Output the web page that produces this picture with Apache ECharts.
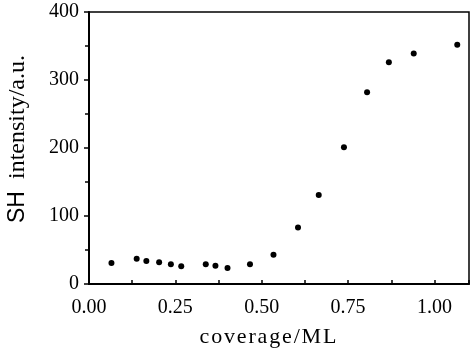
<!DOCTYPE html>
<html><head><meta charset="utf-8">
<script src="https://cdn.jsdelivr.net/npm/echarts@6/dist/echarts.min.js"></script>
<style>html,body{margin:0;padding:0;background:#fff}#c{width:470px;height:351px}</style>
</head><body><div id="c"></div>
<script>
const coverage = [0.065, 0.138, 0.166, 0.203, 0.237, 0.267, 0.338, 0.366, 0.401, 0.466, 0.534, 0.605, 0.665, 0.738, 0.805, 0.868, 0.940, 1.066];
const intensity = [31, 37, 34, 32, 29, 26, 29, 27, 23.5, 29, 43, 83, 131, 201, 282, 326, 339, 352];
const xTicks = [0, 0.25, 0.5, 0.75, 1.0];
const yTicks = [0, 100, 200, 300, 400];

const data = coverage.map((c, i) => [c, intensity[i]]);
const chart = echarts.init(document.getElementById('c'));
const serif = 'Liberation Serif';
const hs = '\u200A';
chart.setOption({
  animation: false,
  grid: {left: 89, right: 1, top: 12, bottom: 67, show: true, borderColor: '#000', borderWidth: 1.5,
    backgroundColor: 'transparent', containLabel: false, outerBoundsMode: 'none'},
  xAxis: {
    type: 'value', min: 0, max: 1.1, interval: 0.25,
    name: 'coverage/ML'.split('').join(hs), nameLocation: 'middle', nameGap: 42,
    nameTextStyle: {fontFamily: serif, fontSize: 22, color: '#000', padding: [0, 22, 0, 0]},
    axisLine: {show: true, lineStyle: {color: '#000', width: 2}},
    axisTick: {show: true, inside: true, length: 4, lineStyle: {color: '#000', width: 1.5}},
    minorTick: {show: true, splitNumber: 2, length: 4, lineStyle: {color: '#000', width: 1.5}},
    splitLine: {show: false},
    axisLabel: {fontFamily: serif, fontSize: 20, color: '#000', margin: 14, showMaxLabel: false,
      formatter: v => xTicks.some(t => Math.abs(t - v) < 1e-9) ? v.toFixed(2) : ''}
  },
  yAxis: {
    type: 'value', min: 0, max: 400, interval: 100,
    name: '{s|SH}  intensity/a.u.', nameLocation: 'middle', nameGap: 59, nameRotate: 90,
    nameTextStyle: {fontFamily: serif, fontSize: 24, color: '#000', padding: [0, 0, 0, 18],
      rich: {s: {fontFamily: 'Liberation Sans', fontSize: 23, color: '#000'}}},
    axisLine: {show: true, lineStyle: {color: '#000', width: 2}},
    axisTick: {show: true, inside: false, length: 5, lineStyle: {color: '#000', width: 1.5}},
    minorTick: {show: true, splitNumber: 2, length: 4, lineStyle: {color: '#000', width: 1.5}},
    splitLine: {show: false},
    axisLabel: {fontFamily: serif, fontSize: 20, color: '#000', margin: 10,
      formatter: v => yTicks.includes(v) ? String(v) : ''}
  },
  series: [{
    type: 'scatter', data: data, symbol: 'circle', symbolSize: 6,
    itemStyle: {color: '#000', opacity: 1}
  }]
});
</script></body></html>
